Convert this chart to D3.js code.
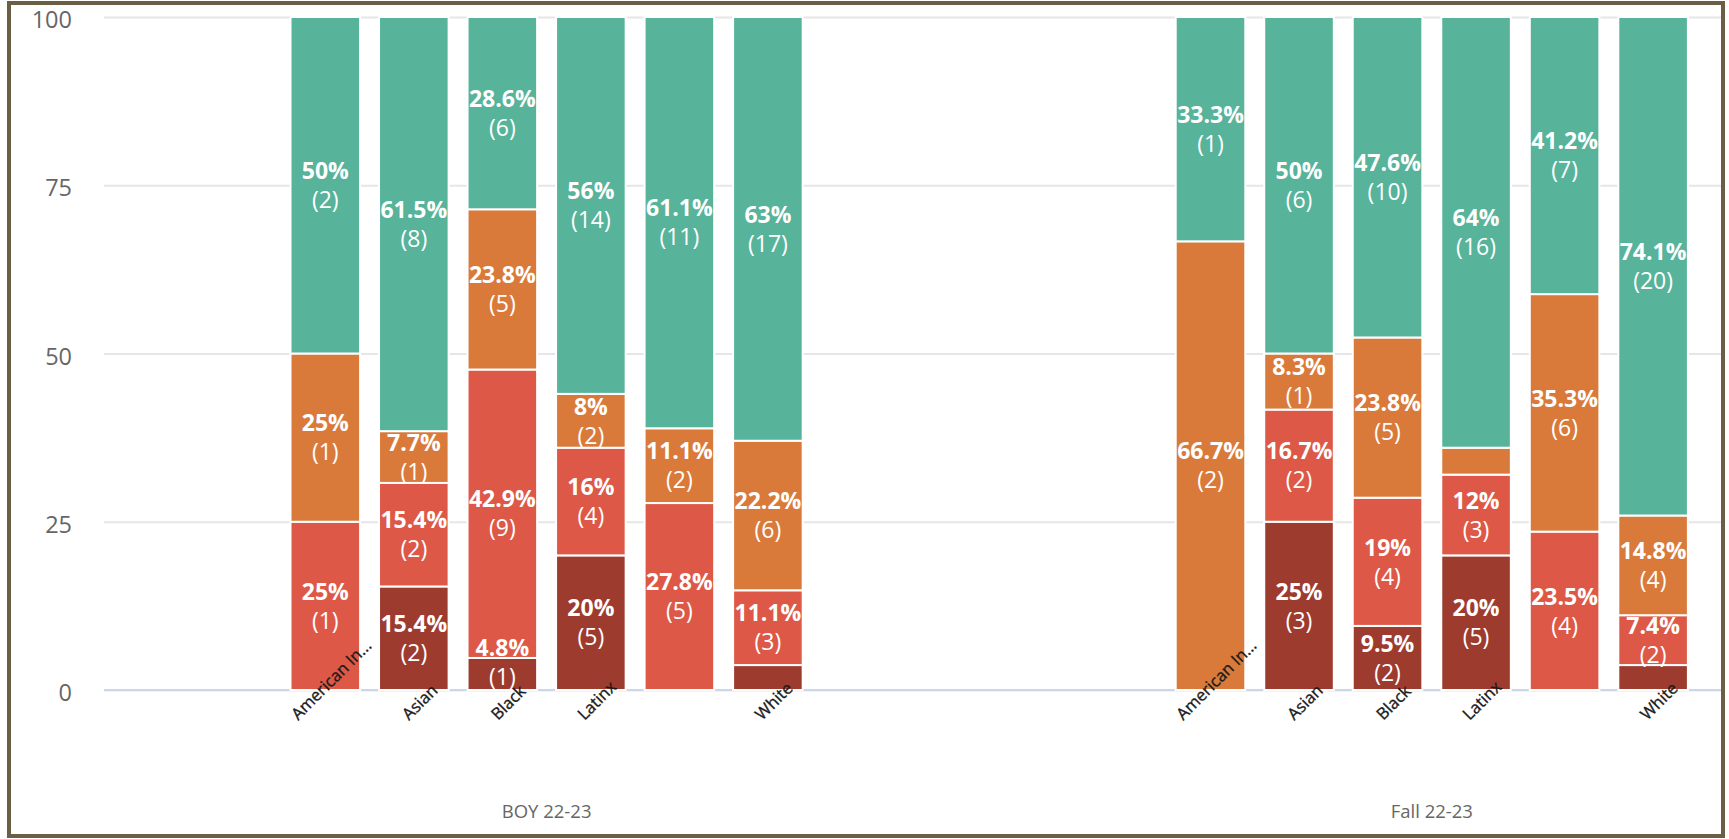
<!DOCTYPE html>
<html>
<head>
<meta charset="utf-8">
<script src="https://cdn.jsdelivr.net/npm/d3@7"></script>
<style>
  html, body { margin: 0; padding: 0; background: #fff; }
  svg { display: block; font-family: "Open Sans", "Noto Sans", sans-serif; }
</style>
</head>
<body>
<svg id="chart" width="1729" height="839"></svg>
<script>
// ---- data -------------------------------------------------------------
const groups = ["BOY 22-23", "Fall 22-23"];
const categories = ["American In...", "Asian", "Black", "Latinx", "", "White"];
const yTicks = [0, 25, 50, 75, 100];
const seriesNames = ["Level 1", "Level 2", "Level 3", "Level 4"];
const seriesColors = ["#9d3b2f", "#dd5846", "#d97a3b", "#57b39a"];
// student counts per category: six BOY values, then six Fall values
const level1 = [0, 2, 1, 5, 0, 1,    0, 3, 2, 5, 0, 1];
const level2 = [1, 2, 9, 4, 5, 3,    0, 2, 4, 3, 4, 2];
const level3 = [1, 1, 5, 2, 2, 6,    2, 1, 5, 1, 6, 4];
const level4 = [2, 8, 6, 14, 11, 17, 1, 6, 10, 16, 7, 20];
const levels = [level1, level2, level3, level4];

// ---- layout -----------------------------------------------------------
const W = 1729, H = 839;
const plot = { left: 104, right: 1721, top: 17, bottom: 690 };
const groupStep = 885.2;

const svg = d3.select("#chart");
svg.append("rect").attr("width", W).attr("height", H).attr("fill", "#fff");

const rows = [];
groups.forEach((g, gi) => {
  categories.forEach((c, ci) => {
    const idx = gi * categories.length + ci;
    const counts = levels.map(s => s[idx]);
    const total = d3.sum(counts);
    const row = { group: g, cat: ci, total, counts };
    seriesNames.forEach((s, si) => { row[s] = counts[si] / total * 100; });
    rows.push(row);
  });
});

const x0 = d3.scaleBand().domain(groups)
  .range([plot.left, plot.left + groupStep * groups.length]);
const x1 = d3.scaleBand().domain(d3.range(categories.length))
  .range([0, x0.bandwidth()]).paddingInner(0.214).paddingOuter(2.107);
const y = d3.scaleLinear().domain([0, 100]).range([plot.bottom, plot.top]);

svg.append("defs").append("clipPath").attr("id", "plotClip")
  .append("rect").attr("x", plot.left).attr("y", 0)
  .attr("width", plot.right - plot.left).attr("height", H);

// ---- gridlines and y axis --------------------------------------------
const yAxis = svg.append("g")
  .attr("transform", `translate(${plot.left},0)`)
  .call(d3.axisLeft(y).tickValues(yTicks)
    .tickSizeInner(-(plot.right - plot.left)).tickSizeOuter(0).tickPadding(32));
yAxis.select(".domain").remove();
yAxis.selectAll(".tick line").attr("stroke", "#e6e6e6").attr("stroke-width", 2);
yAxis.selectAll(".tick text")
  .attr("fill", "#666").attr("font-size", 23.5)
  .attr("font-family", "'Open Sans', sans-serif").attr("dy", "0.45em");

svg.append("line")
  .attr("x1", plot.left).attr("x2", plot.right)
  .attr("y1", y(0)).attr("y2", y(0))
  .attr("stroke", "#ccd6eb").attr("stroke-width", 2);

// ---- stacked bars -----------------------------------------------------
const stacked = d3.stack().keys(seriesNames)(rows);
const barsG = svg.append("g").attr("clip-path", "url(#plotClip)");
const barX = r => x0(r.group) + x1(r.cat);

stacked.forEach((layer, si) => {
  barsG.selectAll(null)
    .data(layer.filter(d => d.data.counts[si] > 0))
    .join("rect")
    .attr("x", d => barX(d.data))
    .attr("width", x1.bandwidth())
    .attr("y", d => y(d[1]))
    .attr("height", d => y(d[0]) - y(d[1]))
    .attr("fill", seriesColors[si])
    .attr("stroke", "#fff")
    .attr("stroke-width", 2);
});

// ---- data labels (percentage and count), overlapping ones dropped ------
const fmtPct = v => (+v.toFixed(1)) + "%";
const lineGap = 29, blockH = 56, labelSize = 23;
const candidates = [];
stacked.forEach((layer, si) => {
  layer.forEach(d => {
    const n = d.data.counts[si];
    if (n <= 0) return;
    const pct = d.data[seriesNames[si]];
    let cy = (y(d[0]) + y(d[1])) / 2;
    cy = Math.max(plot.top + blockH / 2, Math.min(plot.bottom - blockH / 2, cy));
    candidates.push({
      cx: barX(d.data) + x1.bandwidth() / 2, cy, pct,
      t1: fmtPct(pct), t2: `(${n})`
    });
  });
});
const measure = svg.append("text").attr("font-size", labelSize)
  .attr("font-weight", "bold").attr("visibility", "hidden");
candidates.forEach(c => { c.w = measure.text(c.t1).node().getComputedTextLength(); });
measure.remove();

const placed = [];
candidates.slice().sort((a, b) => b.pct - a.pct).forEach(c => {
  const box = { l: c.cx - c.w / 2, r: c.cx + c.w / 2, t: c.cy - blockH / 2, b: c.cy + blockH / 2 };
  const hit = placed.some(p => box.l < p.box.r && box.r > p.box.l && box.t < p.box.b && box.b > p.box.t);
  if (!hit) placed.push({ c, box });
});

const labelsG = svg.append("g").attr("text-anchor", "middle").attr("fill", "#fff")
  .attr("font-size", labelSize);
placed.forEach(({ c }) => {
  labelsG.append("text").attr("x", c.cx).attr("y", c.cy - lineGap / 2 + 8.2)
    .attr("font-weight", "bold").text(c.t1);
  labelsG.append("text").attr("x", c.cx).attr("y", c.cy + lineGap / 2 + 8.2)
    .text(c.t2);
});

// ---- category labels (rotated) -----------------------------------------
const catG = svg.append("g");
rows.forEach(r => {
  const label = categories[r.cat];
  if (!label) return;
  const cx = barX(r) + x1.bandwidth() / 2;
  const t = catG.append("text")
    .attr("text-anchor", "middle")
    .attr("font-size", 16.5).attr("fill", "#1a1a1a")
    .attr("stroke", "#1a1a1a").attr("stroke-width", 0.35)
    .text(label);
  const L = t.node().getComputedTextLength();
  t.attr("transform", `translate(${cx + 10},${721 - L * 0.3536}) rotate(-45)`);
});

// ---- group labels -----------------------------------------------------
svg.append("g").selectAll("text").data(groups).join("text")
  .attr("x", g => x0(g) + x1(0) + (x1(categories.length - 1) + x1.bandwidth() - x1(0)) / 2)
  .attr("y", 818)
  .attr("text-anchor", "middle")
  .attr("font-size", 18.5).attr("fill", "#666")
  .text(g => g);

// ---- frame ------------------------------------------------------------
svg.append("rect")
  .attr("x", 9).attr("y", 3).attr("width", 1714).attr("height", 833)
  .attr("fill", "none").attr("stroke", "#6b5e45").attr("stroke-width", 4);
</script>
</body>
</html>
